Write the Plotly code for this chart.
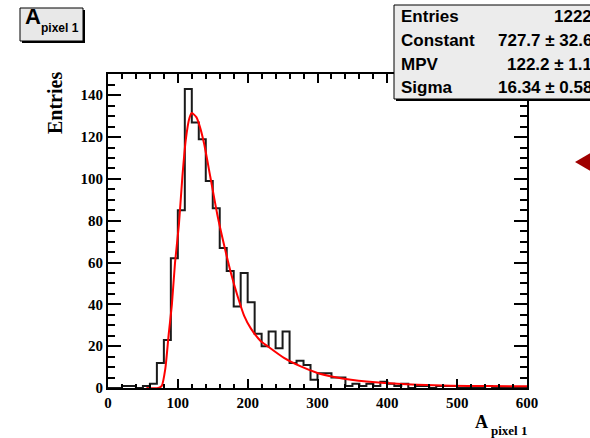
import plotly.graph_objects as go

# ---------------- data ----------------
bin_width = 10
bin_low_edges = list(range(0, 600, 10))
counts = [0, 0, 1, 1, 0, 1, 2, 12, 23, 62,
          85, 143, 127, 119, 99, 86, 67, 56, 39, 55,
          41, 26, 20, 27, 19, 27, 12, 13, 11, 4,
          7, 7, 5, 5, 1, 2, 1, 2, 1, 3,
          2, 1, 2, 0, 1, 1, 0, 1, 1, 1,
          0, 0, 0, 0, 1, 0, 0, 0, 0, 0]

fit_x = [55, 72, 77, 82, 87, 91.5, 96, 101.5, 106.5, 111.5, 116.5, 120, 126.5, 131.5,
         137.5, 146.5, 156.5, 166.5, 176, 185.5, 195, 204.5, 218.5, 228.5, 252, 276,
         300, 324, 348, 396, 443, 491, 540, 600]
fit_y = [0, 0, 1, 9, 26, 40, 60, 78, 101, 119, 129, 131.5, 129.5, 125,
         117, 101, 83, 68, 55, 44, 34.5, 28.5, 22.5, 20, 14.4, 10.3,
         7.2, 5.3, 4, 2.4, 1.6, 1.1, 0.9, 0.8]

stat_labels = ["Entries", "Constant", "MPV", "Sigma"]
stat_values = ["1222", "727.7\u00a0\u00b1\u00a032.6", "122.2\u00a0\u00b1\u00a01.1", "16.34\u00a0\u00b1\u00a00.58"]

x_range = [0, 600]
y_range = [0, 150.15]

# ---------------- geometry (pixels) ----------------
W, H = 590, 438
PL, PR, PT, PB = 108, 527, 74, 388


def px(x):
    return (x - PL) / (PR - PL)


def py(y):
    return (PB - y) / (PB - PT)


step_x = bin_low_edges + [bin_low_edges[-1] + bin_width]
step_y = counts + [counts[-1]]

fig = go.Figure()
fig.add_trace(go.Scatter(x=step_x, y=step_y, mode="lines", line_shape="hv",
                         line=dict(color="#1a1a1a", width=2), hoverinfo="skip"))
fig.add_trace(go.Scatter(x=fit_x, y=fit_y, mode="lines", line_shape="spline",
                         line=dict(color="#ff0000", width=2, smoothing=0.6), hoverinfo="skip"))

tickfont = dict(family="Liberation Serif", size=15, color="black", weight="bold")

fig.update_layout(
    width=W, height=H, autosize=False,
    margin=dict(l=PL, r=W - PR, t=PT, b=H - PB, pad=0),
    paper_bgcolor="white", plot_bgcolor="white",
    showlegend=False,
    xaxis=dict(range=x_range, showgrid=False, zeroline=False, showline=True,
               linecolor="black", linewidth=2, mirror="ticks",
               ticks="inside", ticklen=9, tickwidth=1.5, tickcolor="black",
               dtick=100, tick0=0, tickfont=tickfont, ticklabelstandoff=0,
               minor=dict(ticks="inside", dtick=20, ticklen=4.5, tickwidth=1.5, tickcolor="black")),
    yaxis=dict(range=y_range, showgrid=False, zeroline=False, showline=True,
               linecolor="black", linewidth=2, mirror="ticks",
               ticks="inside", ticklen=13, tickwidth=1.5, tickcolor="black",
               dtick=20, tick0=0, tickfont=tickfont,
               minor=dict(ticks="inside", dtick=5, ticklen=7, tickwidth=1.5, tickcolor="black")),
)

shapes = []
annotations = []

# title box "A_pixel 1"
tb = (20, 8, 83, 41)
shapes.append(dict(type="rect", xref="paper", yref="paper",
                   x0=px(tb[0] + 2), x1=px(tb[2] + 2), y0=py(tb[1] + 2), y1=py(tb[3] + 2),
                   fillcolor="black", line=dict(width=0), layer="above"))
shapes.append(dict(type="rect", xref="paper", yref="paper",
                   x0=px(tb[0]), x1=px(tb[2]), y0=py(tb[1]), y1=py(tb[3]),
                   fillcolor="#e8e8e8", line=dict(color="black", width=1), layer="above"))
annotations.append(dict(text="A", xref="paper", yref="paper", x=px(23), y=py(31),
                        xanchor="left", yanchor="bottom", showarrow=False,
                        font=dict(family="Liberation Sans", size=22, color="black", weight="bold")))
annotations.append(dict(text="pixel 1", xref="paper", yref="paper", x=px(39), y=py(37),
                        xanchor="left", yanchor="bottom", showarrow=False,
                        font=dict(family="Liberation Sans", size=12, color="black", weight="bold")))

# stats box
sb = (394, 5, 600, 99)
shapes.append(dict(type="rect", xref="paper", yref="paper",
                   x0=px(sb[0] + 2), x1=px(sb[2] + 2), y0=py(sb[1] + 2), y1=py(sb[3] + 2),
                   fillcolor="black", line=dict(width=0), layer="above"))
shapes.append(dict(type="rect", xref="paper", yref="paper",
                   x0=px(sb[0]), x1=px(sb[2]), y0=py(sb[1]), y1=py(sb[3]),
                   fillcolor="#ececec", line=dict(color="black", width=1), layer="above"))
row_y = [17, 40.5, 64, 87.5]
for lab, val, ry in zip(stat_labels, stat_values, row_y):
    annotations.append(dict(text=lab, xref="paper", yref="paper", x=px(399), y=py(ry),
                            xanchor="left", yanchor="middle", showarrow=False,
                            font=dict(family="Liberation Sans", size=17, color="black", weight="bold")))
    annotations.append(dict(text=val, xref="paper", yref="paper", x=px(594), y=py(ry),
                            xanchor="right", yanchor="middle", showarrow=False,
                            font=dict(family="Liberation Sans", size=17, color="black", weight="bold")))

# axis titles
annotations.append(dict(text="Entries", xref="paper", yref="paper", x=px(55), y=py(70),
                        xanchor="center", yanchor="top", textangle=-90, showarrow=False,
                        font=dict(family="Liberation Serif", size=20, color="black", weight="bold")))
annotations.append(dict(text="A", xref="paper", yref="paper", x=px(490), y=py(434),
                        xanchor="right", yanchor="bottom", showarrow=False,
                        font=dict(family="Liberation Serif", size=18, color="black", weight="bold")))
annotations.append(dict(text="pixel 1", xref="paper", yref="paper", x=px(489), y=py(440),
                        xanchor="left", yanchor="bottom", showarrow=False,
                        font=dict(family="Liberation Serif", size=13, color="black", weight="bold")))

# red marker triangle at right edge
shapes.append(dict(type="path", xref="paper", yref="paper",
                   path="M %f %f L %f %f L %f %f Z" % (px(575), py(162), px(592), py(152), px(592), py(172)),
                   fillcolor="#a00000", line=dict(width=0), layer="above"))

fig.update_layout(shapes=shapes, annotations=annotations)
fig.write_html("out.html")
